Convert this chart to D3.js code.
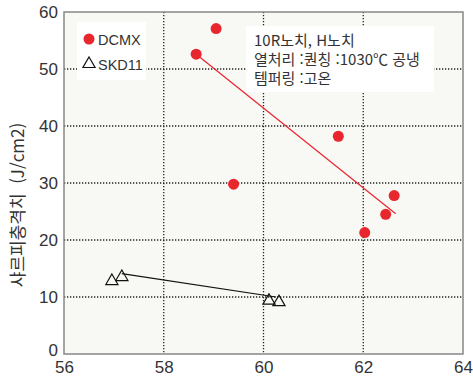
<!DOCTYPE html>
<html lang="ko">
<head>
<meta charset="utf-8">
<script src="https://cdn.jsdelivr.net/npm/d3@7"></script>
<style>
  body { margin: 0; background: #fff; }
  text { font-family: "Noto Sans CJK KR", "Liberation Sans", sans-serif; fill: #333; }
</style>
</head>
<body>
<script>
// data
var dcmxX = [58.65, 59.05, 59.4, 61.5, 62.03, 62.45, 62.62];
var dcmxY = [52.6, 57.1, 29.8, 38.2, 21.3, 24.5, 27.8];
var skdX = [56.96, 57.16, 60.11, 60.31];
var skdY = [12.8, 13.5, 9.35, 9.1];
var dcmxFit = [[58.65, 52.6], [62.65, 24.6]];
var skdFit = [[57.16, 14.1], [60.25, 10.0]];
var xTicks = [56, 58, 60, 62, 64];
var yTicks = [0, 10, 20, 30, 40, 50, 60];
var noteLines = ["10R노치, H노치", "열처리 :퀀칭 :1030℃ 공냉", "템퍼링 :고온"];

var w = 473, h = 381;
// plot box (window.top is reserved, so use pTop etc.)
var pLeft = 64, pRight = 463, pTop = 12, pBottom = 354;

var svg = d3.select("body").append("svg")
  .attr("width", w).attr("height", h);

var x = d3.scaleLinear().domain([56, 64]).range([pLeft, pRight]);
var y = d3.scaleLinear().domain([0, 60]).range([pBottom, pTop]);

// plot background
svg.append("rect")
  .attr("x", pLeft).attr("y", pTop)
  .attr("width", pRight - pLeft).attr("height", pBottom - pTop)
  .attr("fill", "#f8f8f4");

// dotted grid
svg.selectAll(".gx").data(xTicks.slice(1, -1)).enter().append("line")
  .attr("x1", d => x(d)).attr("x2", d => x(d))
  .attr("y1", pTop).attr("y2", pBottom)
  .attr("stroke", "#222").attr("stroke-width", 1.3).attr("stroke-dasharray", "1.3,1.7");
svg.selectAll(".gy").data(yTicks.slice(1, -1)).enter().append("line")
  .attr("x1", pLeft).attr("x2", pRight)
  .attr("y1", d => y(d)).attr("y2", d => y(d))
  .attr("stroke", "#222").attr("stroke-width", 1.3).attr("stroke-dasharray", "1.3,1.7");

// frame
svg.append("rect")
  .attr("x", pLeft).attr("y", pTop)
  .attr("width", pRight - pLeft).attr("height", pBottom - pTop)
  .attr("fill", "none").attr("stroke", "#888").attr("stroke-width", 1.5);

// axes (labels only)
var xAxis = svg.append("g").attr("transform", "translate(0," + pBottom + ")")
  .call(d3.axisBottom(x).tickValues(xTicks).tickSize(0).tickPadding(7));
var yAxis = svg.append("g").attr("transform", "translate(" + pLeft + ",0)")
  .call(d3.axisLeft(y).tickValues(yTicks).tickSize(0).tickPadding(6));
[xAxis, yAxis].forEach(function(g) {
  g.select(".domain").remove();
  g.selectAll("text").style("font-family", "'Liberation Sans', sans-serif")
    .style("font-size", "17px").attr("fill", "#333");
});
// the "0" sits a little above the frame bottom in the original
yAxis.selectAll(".tick text").filter(d => d === 0).attr("dy", "0.1em");

// y label
svg.append("text")
  .attr("transform", "translate(24,205) rotate(-90)")
  .attr("text-anchor", "middle")
  .style("font-size", "17px")
  .style("white-space", "pre")
  .text("샤르피충격치  (J/cm2)");

// fit lines
var line = d3.line().x(d => x(d[0])).y(d => y(d[1]));
svg.append("path").attr("d", line(dcmxFit))
  .attr("fill", "none").attr("stroke", "#e8262e").attr("stroke-width", 1.2);
svg.append("path").attr("d", line(skdFit))
  .attr("fill", "none").attr("stroke", "#111").attr("stroke-width", 1.2);

// DCMX points
svg.selectAll(".dc").data(dcmxX).enter().append("circle")
  .attr("cx", d => x(d)).attr("cy", (d, i) => y(dcmxY[i]))
  .attr("r", 5.5).attr("fill", "#e8262e");

// SKD11 points
var tri = d3.symbol().type(d3.symbolTriangle).size(64);
svg.selectAll(".sk").data(skdX).enter().append("path")
  .attr("d", tri)
  .attr("transform", (d, i) => "translate(" + x(d) + "," + y(skdY[i]) + ")")
  .attr("fill", "none").attr("stroke", "#111").attr("stroke-width", 1.2);

// legend
svg.append("rect").attr("x", 77).attr("y", 22).attr("width", 69).attr("height", 58).attr("fill", "#fff");
svg.append("circle").attr("cx", 89).attr("cy", 39).attr("r", 5.5).attr("fill", "#e8262e");
svg.append("path").attr("d", tri).attr("transform", "translate(89,64)")
  .attr("fill", "none").attr("stroke", "#111").attr("stroke-width", 1.2);
svg.append("text").attr("x", 98).attr("y", 45).style("font-size", "14.5px")
  .style("font-family", "'Liberation Sans', sans-serif").text("DCMX");
svg.append("text").attr("x", 98).attr("y", 70).style("font-size", "14.5px")
  .style("font-family", "'Liberation Sans', sans-serif").text("SKD11");

// note box
svg.append("rect").attr("x", 246).attr("y", 26).attr("width", 188).attr("height", 66).attr("fill", "#fff");
svg.selectAll(".note").data(noteLines).enter().append("text")
  .attr("x", 254).attr("y", (d, i) => 46 + i * 19)
  .style("font-size", "15px")
  .text(d => d);
</script>
</body>
</html>
